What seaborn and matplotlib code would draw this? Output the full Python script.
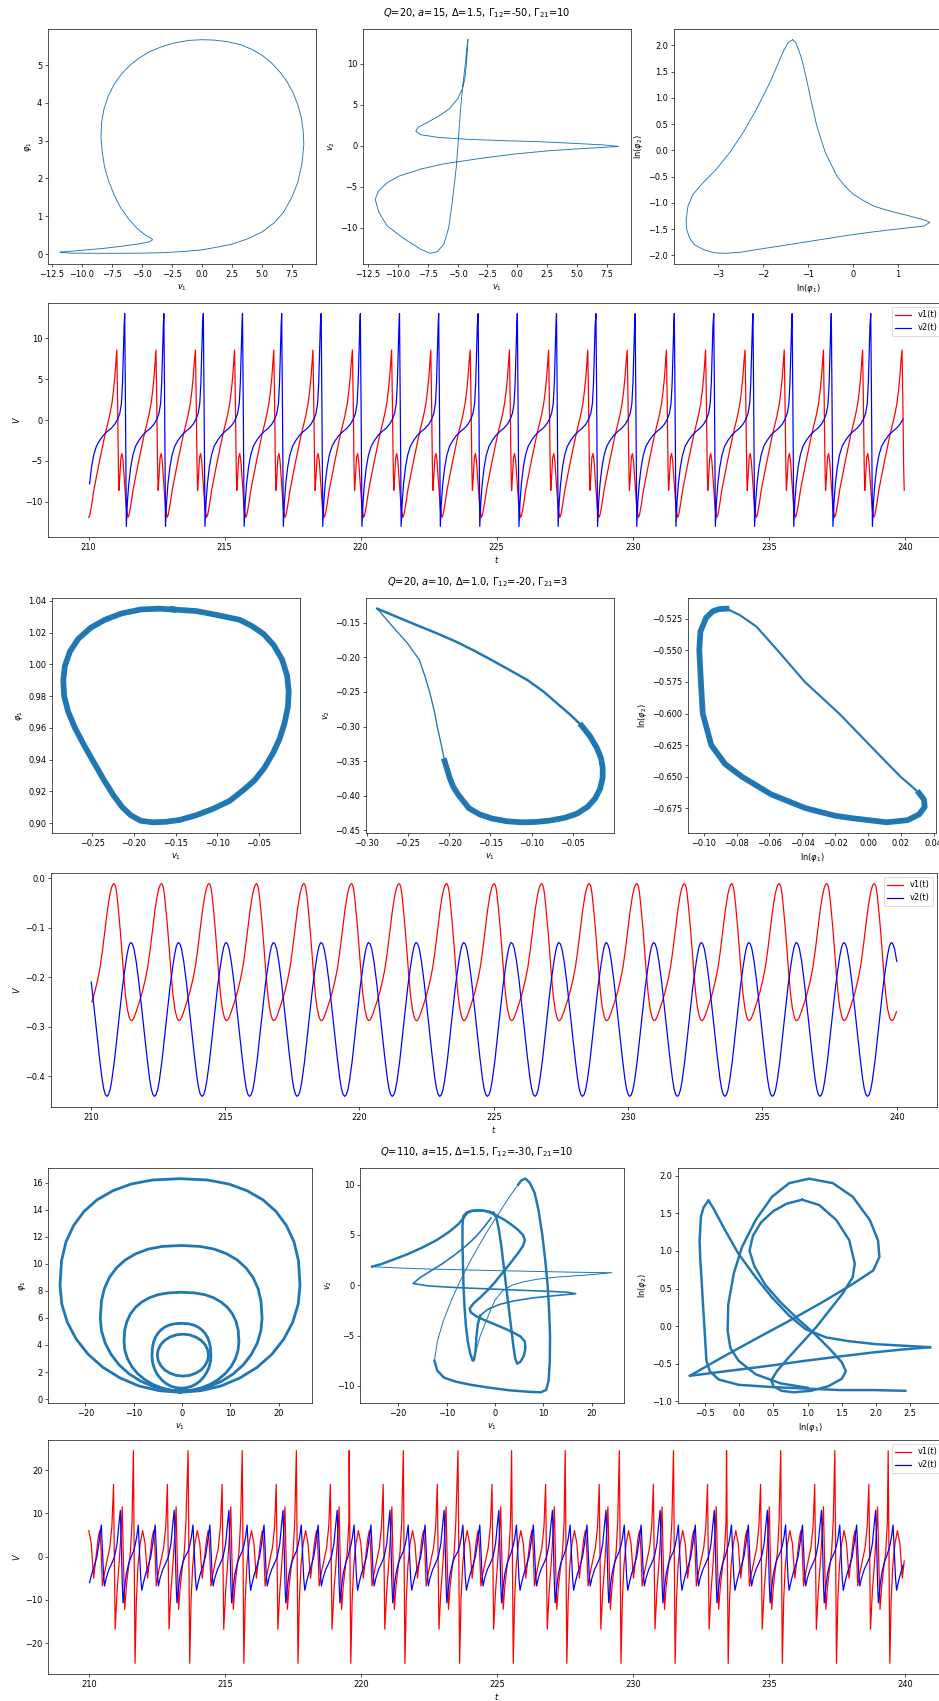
import numpy as np
import matplotlib
matplotlib.use("Agg")
import matplotlib.pyplot as plt
import seaborn as sns

# ---------------------------------------------------------------- figure frame
FIG_W, FIG_H, DPI = 939, 1701, 59
PHASE_C = "#1f77b4"

# ============================================================ section 1 data
title_1 = r"$Q$=20, $a$=15, $\Delta$=1.5, $\Gamma_{12}$=-50, $\Gamma_{21}$=10"

s1_v1_phi1_x = [-11.8, -11.0, -9.0, -7.0, -5.0, -3.0, -1.5, 0.0, 1.2, 2.5, 3.8, 5.0, 6.0, 6.8,
                7.5, 8.0, 8.35, 8.5, 8.45, 8.3, 8.0, 7.6, 7.1, 6.5, 5.85, 5.1, 4.2, 3.2, 2.1, 1.0,
                0.0, -1.1, -2.2, -3.3, -4.3, -5.2, -6.0, -6.7, -7.3, -7.8, -8.15, -8.35, -8.4,
                -8.3, -8.1, -7.75, -7.3, -6.75, -6.1, -5.4, -4.7, -4.2, -4.1, -4.3, -5.2, -6.6,
                -8.2, -10.0, -11.8]
s1_v1_phi1_y = [0.05, 0.025, 0.02, 0.02, 0.025, 0.04, 0.07, 0.11, 0.18, 0.26, 0.4, 0.58, 0.82,
                1.1, 1.5, 1.9, 2.4, 2.9, 3.25, 3.6, 3.95, 4.27, 4.56, 4.82, 5.04, 5.24, 5.41, 5.54,
                5.62, 5.66, 5.67, 5.65, 5.59, 5.49, 5.36, 5.19, 4.99, 4.76, 4.49, 4.18, 3.84,
                3.48, 3.1, 2.7, 2.3, 1.92, 1.56, 1.22, 0.93, 0.68, 0.5, 0.41, 0.38, 0.33, 0.27,
                0.21, 0.15, 0.1, 0.05]

s1_v1_v2_x = [-4.14, -4.35, -4.55, -4.72, -4.85, -4.97, -5.1, -5.3, -5.5, -5.75, -6.15, -6.7,
              -7.3, -8.1, -9.6, -10.9, -11.6, -11.9, -11.6, -10.9, -9.9, -8.1, -6.1, -3.1, -0.15,
              2.8, 5.3, 7.3, 8.5, 7.3, 4.8, 1.85, -1.15, -4.1, -6.6, -8.1, -8.5, -8.3, -7.5,
              -6.6, -5.7, -5.0, -4.6, -4.4, -4.25, -4.14]
s1_v1_v2_y = [12.9, 10.0, 7.5, 5.0, 2.5, 0.0, -2.5, -5.0, -7.5, -10.0, -12.0, -12.9, -13.1,
              -12.6, -11.2, -9.75, -8.1, -6.5, -5.5, -4.5, -3.7, -2.85, -2.2, -1.55, -1.0, -0.6,
              -0.37, -0.2, -0.1, 0.08, 0.28, 0.49, 0.61, 0.77, 1.0, 1.34, 1.75, 2.24, 2.85, 3.58,
              4.47, 5.7, 6.9, 8.1, 10.0, 12.9]

s1_ln_x = [-1.34, -1.27, -1.21, -1.15, -1.10, -1.02, -0.95, -0.80, -0.61, -0.35, -0.15, 0.02,
           0.25, 0.47, 0.73, 0.99, 1.23, 1.44, 1.62, 1.72, 1.59, 1.07, 0.47, -0.13, -0.72, -1.32,
           -1.92, -2.51, -2.83, -3.1, -3.32, -3.52, -3.63, -3.70, -3.71, -3.67, -3.56, -3.34,
           -3.04, -2.74, -2.44, -2.14, -1.84, -1.62, -1.52, -1.44, -1.34]
s1_ln_y = [2.11, 2.06, 1.93, 1.78, 1.62, 1.33, 1.04, 0.47, -0.04, -0.49, -0.70, -0.84, -0.96,
           -1.06, -1.13, -1.19, -1.24, -1.29, -1.33, -1.37, -1.44, -1.49, -1.55, -1.62, -1.70,
           -1.78, -1.86, -1.94, -1.96, -1.95, -1.89, -1.80, -1.68, -1.50, -1.32, -1.06, -0.84,
           -0.62, -0.36, -0.04, 0.34, 0.79, 1.30, 1.74, 1.93, 2.05, 2.11]

# one oscillation of each voltage, offsets measured from its spike
s1_v1_peaks = [209.60, 211.04, 212.48, 213.93, 215.37, 216.81, 218.25, 219.70, 221.14, 222.58,
               224.03, 225.47, 226.91, 228.35, 229.80, 231.24, 232.68, 234.13, 235.57, 237.01,
               238.45, 239.90]
s1_v1_dt = [0.00, 0.03, 0.06, 0.08, 0.11, 0.15, 0.19, 0.23, 0.29, 0.35, 0.41, 0.45, 0.52, 0.60,
            0.70, 0.80, 0.90, 1.00, 1.10, 1.18, 1.26, 1.32, 1.37, 1.41]
s1_v1_val = [8.55, 2.0, -6.0, -8.6, -7.0, -4.6, -4.1, -5.0, -8.0, -10.8, -11.9, -11.6, -10.3,
             -8.5, -6.8, -5.1, -3.5, -1.9, -0.5, 0.6, 2.0, 3.6, 5.3, 7.2]
s1_v2_peaks = [209.89, 211.33, 212.77, 214.22, 215.66, 217.10, 218.55, 219.99, 221.43, 222.87,
               224.32, 225.76, 227.20, 228.65, 230.09, 231.53, 232.98, 234.42, 235.86, 237.30,
               238.75]
s1_v2_dt = [0.00, 0.03, 0.06, 0.10, 0.15, 0.22, 0.30, 0.40, 0.52, 0.65, 0.80, 0.95, 1.08, 1.18,
            1.26, 1.32, 1.36, 1.39, 1.42]
s1_v2_val = [13.0, 1.0, -13.0, -10.0, -7.8, -5.8, -4.3, -3.2, -2.5, -1.9, -1.4, -1.0, -0.5, 0.1,
             0.8, 2.0, 4.5, 8.0, 11.5]

# ============================================================ section 2 data
title_2 = r"$Q$=20, $a$=10, $\Delta$=1.0, $\Gamma_{12}$=-20, $\Gamma_{21}$=3"

s2_v1_phi1_x = [-0.153, -0.125, -0.100, -0.073, -0.058, -0.044, -0.032, -0.022, -0.016, -0.014,
                -0.015, -0.019, -0.025, -0.033, -0.043, -0.055, -0.068, -0.085, -0.105, -0.125,
                -0.145, -0.162, -0.178, -0.192, -0.204, -0.214, -0.224, -0.236, -0.248, -0.260,
                -0.271, -0.279, -0.284, -0.285, -0.283, -0.277, -0.267, -0.252, -0.235, -0.215,
                -0.192, -0.170, -0.153]
s2_v1_phi1_y = [1.0345, 1.0335, 1.031, 1.028, 1.024, 1.019, 1.012, 1.003, 0.993, 0.983, 0.973,
                0.963, 0.953, 0.944, 0.935, 0.927, 0.921, 0.914, 0.909, 0.905, 0.902, 0.9008,
                0.9005, 0.9015, 0.905, 0.910, 0.917, 0.927, 0.938, 0.949, 0.960, 0.970, 0.980,
                0.990, 0.999, 1.008, 1.016, 1.023, 1.028, 1.032, 1.0345, 1.035, 1.0345]

s2_v1_v2_diag_x = [-0.287, -0.262, -0.236, -0.214, -0.1923, -0.170, -0.1486, -0.127, -0.1049,
                   -0.086, -0.0685, -0.053, -0.0393]
s2_v1_v2_diag_y = [-0.1295, -0.142, -0.1549, -0.1655, -0.1768, -0.190, -0.2037, -0.218,
                   -0.2329, -0.249, -0.2671, -0.283, -0.2988]
s2_v1_v2_loop_x = [-0.0393, -0.0292, -0.0211, -0.016, -0.0138, -0.014, -0.017, -0.023, -0.032,
                   -0.045, -0.060, -0.078, -0.095, -0.112, -0.130, -0.148, -0.163, -0.176,
                   -0.1887, -0.195, -0.199, -0.2054]
s2_v1_v2_loop_y = [-0.2988, -0.314, -0.3305, -0.345, -0.3598, -0.375, -0.390, -0.404, -0.416,
                   -0.426, -0.432, -0.436, -0.438, -0.4385, -0.437, -0.433, -0.427, -0.418,
                   -0.3988, -0.387, -0.375, -0.350]
s2_v1_v2_left_x = [-0.2054, -0.2095, -0.2141, -0.218, -0.223, -0.229, -0.236, -0.2505,
                   -0.2688, -0.287]
s2_v1_v2_left_y = [-0.350, -0.326, -0.3012, -0.277, -0.2524, -0.228, -0.2037, -0.1793,
                   -0.1549, -0.1295]

s2_ln_diag_x = [-0.0861, -0.078, -0.068, -0.055, -0.0384, -0.0176, 0.001, 0.0197, 0.026, 0.031]
s2_ln_diag_y = [-0.5169, -0.522, -0.531, -0.550, -0.575, -0.600, -0.625, -0.650, -0.657, -0.663]
s2_ln_loop_x = [0.031, 0.034, 0.0345, 0.031, 0.024, 0.0114, -0.0093, -0.020, -0.038, -0.059,
                -0.0768, -0.087, -0.0954, -0.1006, -0.1017, -0.1027, -0.1020, -0.0985, -0.0945,
                -0.0905, -0.0861]
s2_ln_loop_y = [-0.663, -0.668, -0.674, -0.680, -0.6845, -0.6862, -0.683, -0.681, -0.675,
                -0.664, -0.650, -0.640, -0.625, -0.600, -0.575, -0.550, -0.535, -0.524, -0.519,
                -0.5172, -0.5169]

s2_v1_peaks = [209.12, 210.89, 212.66, 214.43, 216.19, 217.96, 219.73, 221.50, 223.27, 225.04,
               226.81, 228.58, 230.35, 232.12, 233.88, 235.65, 237.42, 239.19]
s2_v1_dt = [0.00, 0.04, 0.08, 0.13, 0.20, 0.27, 0.33, 0.40, 0.47, 0.54, 0.58, 0.62, 0.66, 0.71,
            0.80, 0.92, 1.03, 1.14, 1.23, 1.32, 1.41, 1.50, 1.59, 1.65, 1.70, 1.74]
s2_v1_val = [-0.012, -0.018, -0.032, -0.058, -0.10, -0.148, -0.192, -0.235, -0.264, -0.281,
             -0.286, -0.288, -0.287, -0.283, -0.27, -0.25, -0.23, -0.205, -0.18, -0.145, -0.105,
             -0.065, -0.034, -0.020, -0.013, -0.011]
s2_v2_peaks = [209.72, 211.49, 213.26, 215.03, 216.80, 218.57, 220.34, 222.11, 223.88, 225.65,
               227.42, 229.18, 230.95, 232.72, 234.49, 236.26, 238.03, 239.80]
s2_v2_dt = [0.00, 0.06, 0.12, 0.20, 0.30, 0.40, 0.50, 0.60, 0.70, 0.76, 0.82, 0.88, 0.94, 1.00,
            1.06, 1.16, 1.26, 1.36, 1.46, 1.56, 1.63, 1.69, 1.74]
s2_v2_val = [-0.130, -0.133, -0.143, -0.168, -0.21, -0.26, -0.31, -0.36, -0.405, -0.425, -0.437,
             -0.441, -0.438, -0.428, -0.41, -0.37, -0.32, -0.27, -0.22, -0.18, -0.155, -0.139,
             -0.132]

# ============================================================ section 3 data
title_3 = r"$Q$=110, $a$=15, $\Delta$=1.5, $\Gamma_{12}$=-30, $\Gamma_{21}$=10"

# (v1, phi1): nested loops, one per spike size
s3_phi_loops = {
    "a": ([-0.4, 3.92, 8.1, 12.0, 15.58, 18.64, 21.12, 22.96, 24.08, 24.45, 24.13, 23.21, 21.64,
           19.5, 16.8, 13.54, 9.76, 5.39, -0.4, -6.19, -10.56, -14.34, -17.6, -20.3, -22.44,
           -24.01, -24.93, -25.25, -24.88, -23.76, -21.92, -19.44, -16.38, -12.8, -8.9, -4.72,
           -0.4],
          [0.5, 0.62, 0.97, 1.56, 2.35, 3.32, 4.45, 5.7, 7.03, 8.4, 10.24, 11.63, 12.83, 13.87,
           14.73, 15.4, 15.9, 16.2, 16.3, 16.2, 15.9, 15.4, 14.73, 13.87, 12.83, 11.63, 10.24,
           8.4, 7.03, 5.7, 4.45, 3.32, 2.35, 1.56, 0.97, 0.62, 0.5]),
    "b": ([-0.15, 2.76, 5.58, 8.23, 10.62, 12.68, 14.35, 15.6, 16.35, 16.6, 16.38, 15.76, 14.71,
           13.27, 11.44, 9.25, 6.7, 3.75, -0.15, -4.05, -7.0, -9.55, -11.74, -13.57, -15.01,
           -16.06, -16.68, -16.9, -16.65, -15.9, -14.65, -12.98, -10.92, -8.53, -5.88, -3.06,
           -0.15],
          [0.6, 0.68, 0.92, 1.32, 1.86, 2.52, 3.29, 4.14, 5.04, 5.98, 7.23, 8.18, 9.0, 9.7, 10.29,
           10.75, 11.09, 11.29, 11.36, 11.29, 11.09, 10.75, 10.29, 9.7, 9.0, 8.18, 7.23, 5.98,
           5.04, 4.14, 3.29, 2.52, 1.86, 1.32, 0.92, 0.68, 0.6]),
    "c": ([-0.1, 1.97, 3.97, 5.85, 7.55, 9.02, 10.21, 11.09, 11.62, 11.8, 11.65, 11.2, 10.46,
           9.43, 8.13, 6.58, 4.77, 2.67, -0.1, -2.87, -4.97, -6.78, -8.33, -9.63, -10.66, -11.4,
           -11.85, -12.0, -11.82, -11.29, -10.41, -9.22, -7.75, -6.05, -4.17, -2.17, -0.1],
          [0.6, 0.65, 0.82, 1.09, 1.45, 1.9, 2.42, 3.0, 3.61, 4.25, 5.1, 5.74, 6.3, 6.78, 7.17,
           7.49, 7.72, 7.85, 7.9, 7.85, 7.72, 7.49, 7.17, 6.78, 6.3, 5.74, 5.1, 4.25, 3.61, 3.0,
           2.42, 1.9, 1.45, 1.09, 0.82, 0.65, 0.6]),
    "d": ([-0.1, 0.96, 1.99, 2.95, 3.82, 4.57, 5.18, 5.63, 5.91, 6.0, 5.92, 5.7, 5.31, 4.79,
           4.12, 3.32, 2.39, 1.32, -0.1, -1.52, -2.59, -3.52, -4.32, -4.99, -5.51, -5.9, -6.12,
           -6.2, -6.11, -5.83, -5.38, -4.77, -4.02, -3.15, -2.19, -1.16, -0.1],
          [0.8, 0.84, 0.94, 1.12, 1.36, 1.66, 2.0, 2.38, 2.78, 3.2, 3.76, 4.18, 4.55, 4.86, 5.12,
           5.33, 5.48, 5.57, 5.6, 5.57, 5.48, 5.33, 5.12, 4.86, 4.55, 4.18, 3.76, 3.2, 2.78,
           2.38, 2.0, 1.66, 1.36, 1.12, 0.94, 0.84, 0.8]),
    "e": ([5.5, 5.32, 4.79, 3.95, 2.85, 1.57, 0.2, -1.17, -2.45, -3.55, -4.39, -4.92, -5.1, -4.92,
           -4.39, -3.55, -2.45, -1.17, 0.2, 1.57, 2.85, 3.95, 4.79, 5.32, 5.5],
          [3.25, 3.65, 4.03, 4.35, 4.59, 4.75, 4.8, 4.75, 4.59, 4.35, 4.03, 3.65, 3.25, 2.85, 2.48,
           2.15, 1.91, 1.75, 1.7, 1.75, 1.91, 2.15, 2.48, 2.85, 3.25]),
}

# (v1, v2): strands of the attractor, each with a weight class
s3_vv_strands = {
    "outer_side": ("thick",
                   [-12.5, -11.9, -10.5, -8.0, -5.0, -1.0, 3.0, 7.0, 9.5, 10.6, 11.1, 11.35, 11.4,
                    11.2, 10.9, 10.4, 9.8, 9.0, 8.2, 7.2, 6.3, 5.5, 4.8],
                   [-7.5, -8.5, -9.2, -9.6, -9.9, -10.2, -10.45, -10.6, -10.65, -10.4, -9.5, -7.5,
                    -5.0, -2.5, 0.0, 2.5, 5.0, 7.5, 9.2, 10.2, 10.6, 10.45, 10.0]),
    "outer_edge": ("thin",
                   [4.8, 3.0, 1.0, -1.0, -3.0, -5.0, -7.0, -9.0, -10.7, -11.9, -12.5],
                   [10.0, 8.8, 7.3, 5.8, 4.2, 2.5, 0.6, -1.5, -3.6, -5.6, -7.5]),
    "spike_top": ("thick",
                  [-25.4, -23.5, -21.0, -18.0, -15.0, -12.0, -9.5, -7.5, -6.5, -5.8, -5.0, -3.5,
                   -2.0, -0.8, 0.5, 2.0, 3.5, 4.8, 5.8, 6.2, 5.8, 4.8, 3.2, 1.5, 0.0, -1.5, -3.0,
                   -4.4, -5.2, -5.0, -3.8, -2.0, 0.0, 2.0, 3.8, 5.3, 6.2, 6.3, 6.0, 5.3, 4.6, 4.2,
                   3.8, 3.3, 2.8, 2.3, 1.8, 1.3, 0.8, 0.3, -0.3],
                  [1.85, 2.1, 2.55, 3.1, 3.75, 4.5, 5.3, 6.1, 6.7, 7.15, 7.4, 7.45, 7.4, 7.2, 6.9,
                   6.5, 6.0, 5.5, 5.0, 4.5, 3.9, 3.2, 2.2, 1.2, 0.3, -0.5, -1.2, -1.8, -2.3, -2.7,
                   -3.1, -3.5, -3.9, -4.3, -4.7, -5.1, -5.6, -6.3, -7.0, -7.6, -7.8, -7.3, -6.0,
                   -4.0, -2.0, 0.0, 2.0, 4.0, 5.6, 6.7, 7.2]),
    "box_left": ("thick",
                 [-0.3, -1.5, -3.0, -4.5, -5.8, -6.5, -6.7, -6.7, -6.6, -6.5, -6.3, -6.0, -5.6,
                  -5.1, -4.6, -4.3, -4.0, -3.8, -3.5, -3.0],
                 [7.2, 7.35, 7.45, 7.4, 7.25, 6.9, 6.0, 4.0, 2.0, 0.0, -2.0, -4.0, -5.6, -6.8,
                  -7.5, -7.4, -6.5, -5.0, -3.8, -3.0]),
    "mid_spike": ("medium",
                  [-3.0, -1.5, 1.0, 4.0, 8.0, 12.0, 15.0, 16.7, 15.0, 12.0, 8.0, 3.0, -2.0, -7.0,
                   -11.0, -14.0, -16.9, -15.5, -13.5, -11.0, -8.5, -6.0, -4.0, -2.2, -0.8],
                  [-3.0, -2.4, -1.9, -1.55, -1.25, -1.05, -0.92, -0.84, -0.7, -0.62, -0.55, -0.45,
                   -0.35, -0.25, -0.15, -0.05, 0.17, 0.75, 1.35, 2.1, 2.95, 3.9, 4.8, 5.8, 6.7]),
    "wide_spike": ("thin",
                   [-25.4, -20.0, -14.0, -8.0, -2.0, 4.0, 10.0, 16.0, 21.0, 24.2, 21.0, 17.0, 13.0,
                    9.0, 6.0, 3.5, 1.5, 0.0, -1.0, -2.0, -3.0, -3.6, -4.1, -4.4],
                   [1.85, 1.72, 1.62, 1.55, 1.48, 1.42, 1.36, 1.3, 1.26, 1.25, 1.1, 0.95, 0.82,
                    0.62, 0.35, 0.0, -0.6, -1.5, -2.6, -3.8, -5.0, -6.0, -6.9, -7.5]),
}

# (ln phi1, ln phi2): strands of the attractor
s3_ln_strands = {
    "left_loop": ([-0.45, -0.52, -0.56, -0.58, -0.57, -0.55, -0.53, -0.50, -0.48, -0.43, -0.30,
                   -0.01, 0.48, 0.97, 1.47, 1.96, 2.43],
                  [1.67, 1.58, 1.46, 1.14, 0.90, 0.60, 0.29, -0.15, -0.46, -0.60, -0.71, -0.78,
                   -0.81, -0.83, -0.85, -0.85, -0.86]),
    "left_diag": ([-0.45, -0.38, -0.21, -0.01, 0.24, 0.48, 0.73, 0.97, 1.27, 1.60, 2.00, 2.40,
                   2.79],
                  [1.67, 1.57, 1.28, 0.96, 0.65, 0.38, 0.14, -0.04, -0.15, -0.20, -0.24, -0.26,
                   -0.28]),
    "spike_low": ([2.79, 2.40, 1.96, 1.50, 0.97, 0.50, 0.24, -0.20, -0.72],
                  [-0.28, -0.31, -0.35, -0.40, -0.46, -0.52, -0.55, -0.60, -0.66]),
    "big": ([-0.72, -0.26, 0.24, 0.73, 1.22, 1.66, 1.96, 2.05, 2.03, 1.91, 1.66, 1.37, 1.02, 0.73,
             0.48, 0.24, 0.04, -0.08, -0.16, -0.17, -0.13, -0.01, 0.24, 0.60, 1.00],
            [-0.66, -0.42, -0.17, 0.07, 0.32, 0.56, 0.74, 0.92, 1.14, 1.41, 1.72, 1.90, 1.96, 1.90,
             1.72, 1.41, 1.05, 0.70, 0.29, -0.06, -0.29, -0.46, -0.64, -0.76, -0.82]),
    "inner": ([0.92, 1.17, 1.42, 1.61, 1.69, 1.66, 1.51, 1.32, 1.12, 0.92, 0.72, 0.55, 0.47, 0.50,
               0.62, 0.80, 1.05, 1.30, 1.50, 1.56, 1.50, 1.32, 1.10, 0.85, 0.60, 0.38, 0.22, 0.15,
               0.20, 0.32, 0.50, 0.70, 0.92],
              [1.68, 1.61, 1.41, 1.14, 0.83, 0.65, 0.43, 0.21, -0.02, -0.22, -0.42, -0.60, -0.72,
               -0.80, -0.86, -0.88, -0.86, -0.80, -0.70, -0.60, -0.48, -0.30, -0.10, 0.10, 0.32,
               0.55, 0.80, 1.00, 1.20, 1.38, 1.53, 1.63, 1.68]),
}

s3_cycle_starts = [209.66, 211.64, 213.65, 215.64, 217.63, 219.57, 221.56, 223.57, 225.54,
                   227.51, 229.50, 231.49, 233.44, 235.43, 237.42, 239.38]
s3_v1_dt = [0.00, 0.025, 0.06, 0.11, 0.17, 0.25, 0.34, 0.43, 0.52, 0.59, 0.68, 0.74, 0.79,
            0.84, 0.91, 1.01, 1.11, 1.19, 1.25, 1.28, 1.31, 1.38, 1.45, 1.52, 1.57, 1.61, 1.66,
            1.72, 1.79, 1.87, 1.93]
s3_v1_val = [24.5, 5.0, -24.7, -10.0, -2.0, 3.0, 6.0, 3.0, -5.0, -1.0, 4.0, 6.0, 2.0, -6.8, -4.0,
             -1.0, 2.0, 7.0, 16.7, 0.0, -16.8, -8.0, -2.0, 5.0, 11.5, 0.0, -12.2, -7.0, -3.0,
             1.0, 8.0]
s3_v2_dt = [0.00, 0.06, 0.12, 0.18, 0.22, 0.27, 0.31, 0.37, 0.45, 0.55, 0.64, 0.71, 0.80, 0.84,
            0.88, 0.92, 0.98, 1.08, 1.19, 1.29, 1.38, 1.44, 1.50, 1.54, 1.57, 1.60, 1.66, 1.72,
            1.81, 1.90]
s3_v2_val = [1.2, 2.5, 4.5, 7.3, 2.0, -5.0, -7.8, -6.0, -4.0, -2.0, 0.0, 3.0, 7.3, 2.0, -4.0,
             -6.8, -5.0, -3.0, -1.5, 0.0, 3.0, 7.0, 10.7, 2.0, -6.0, -10.7, -7.0, -4.0, -1.5, 0.0]

T_START, T_END = 210.0, 240.0
STRAND_LW = {"thick": 3.0, "medium": 2.0, "thin": 1.2}


# ================================================================ helpers
fig = plt.figure(figsize=(FIG_W / DPI, FIG_H / DPI), dpi=DPI)


def axes_px(left, top, right, bottom):
    """Place an axes by its pixel box (origin at the top-left corner)."""
    return fig.add_axes([left / FIG_W, 1 - bottom / FIG_H,
                         (right - left) / FIG_W, (bottom - top) / FIG_H])


def curve(ax, xs, ys, lw):
    sns.lineplot(x=xs, y=ys, sort=False, estimator=None, ax=ax,
                 color=PHASE_C, linewidth=lw)


def repeat_cycle(starts, dts, vals):
    t = np.concatenate([s + np.asarray(dts) for s in starts])
    v = np.tile(np.asarray(vals, dtype=float), len(starts))
    keep = (t >= T_START) & (t <= T_END)
    return t[keep], v[keep]


def series(ax, v1, v2):
    sns.lineplot(x=v1[0], y=v1[1], ax=ax, color="red", label="v1(t)",
                 sort=False, estimator=None, linewidth=1.5)
    sns.lineplot(x=v2[0], y=v2[1], ax=ax, color="blue", label="v2(t)",
                 sort=False, estimator=None, linewidth=1.5)
    ax.legend(loc="upper right")
    ax.set_xlabel(r"$t$", labelpad=2.5)
    ax.set_ylabel(r"$V$")


def phase_labels(axs):
    axs[0].set_xlabel(r"$v_1$")
    axs[0].set_ylabel(r"$\varphi_1$")
    axs[1].set_xlabel(r"$v_1$")
    axs[1].set_ylabel(r"$v_2$")
    axs[2].set_xlabel(r"ln($\varphi_1$)")
    axs[2].set_ylabel(r"ln($\varphi_2$)")


# ================================================================ section 1
fig.text(477 / FIG_W, 1 - 13 / FIG_H, title_1, ha="center", va="center", fontsize=12)
p1 = [axes_px(48, 29, 316, 264), axes_px(363, 29, 631, 264), axes_px(674, 29, 942, 264)]
curve(p1[0], s1_v1_phi1_x, s1_v1_phi1_y, 1.1)
curve(p1[1], s1_v1_v2_x, s1_v1_v2_y, 1.1)
curve(p1[2], s1_ln_x, s1_ln_y, 1.1)
phase_labels(p1)

ts1 = axes_px(48, 303, 945, 537)
series(ts1, repeat_cycle(s1_v1_peaks, s1_v1_dt, s1_v1_val),
       repeat_cycle(s1_v2_peaks, s1_v2_dt, s1_v2_val))

# ================================================================ section 2
fig.text(477 / FIG_W, 1 - 582 / FIG_H, title_2, ha="center", va="center", fontsize=12)
p2 = [axes_px(52, 598, 300, 833), axes_px(366, 598, 614, 833), axes_px(688, 598, 936, 833)]
curve(p2[0], s2_v1_phi1_x, s2_v1_phi1_y, 7.0)
curve(p2[1], s2_v1_v2_diag_x, s2_v1_v2_diag_y, 3.0)
curve(p2[1], s2_v1_v2_loop_x, s2_v1_v2_loop_y, 7.0)
curve(p2[1], s2_v1_v2_left_x, s2_v1_v2_left_y, 1.6)
curve(p2[2], s2_ln_diag_x, s2_ln_diag_y, 2.6)
curve(p2[2], s2_ln_loop_x, s2_ln_loop_y, 7.0)
phase_labels(p2)

ts2 = axes_px(51, 873, 937, 1107)
series(ts2, repeat_cycle(s2_v1_peaks, s2_v1_dt, s2_v1_val),
       repeat_cycle(s2_v2_peaks, s2_v2_dt, s2_v2_val))

# ================================================================ section 3
fig.text(477 / FIG_W, 1 - 1152 / FIG_H, title_3, ha="center", va="center", fontsize=12)
p3 = [axes_px(48, 1168, 312, 1403), axes_px(360, 1168, 624, 1403), axes_px(678, 1168, 942, 1403)]
for xs, ys in s3_phi_loops.values():
    curve(p3[0], xs, ys, 3.4)
for weight, xs, ys in s3_vv_strands.values():
    curve(p3[1], xs, ys, STRAND_LW[weight])
for xs, ys in s3_ln_strands.values():
    curve(p3[2], xs, ys, 3.0)
phase_labels(p3)

ts3 = axes_px(48, 1440, 945, 1674)
series(ts3, repeat_cycle(s3_cycle_starts, s3_v1_dt, s3_v1_val),
       repeat_cycle(s3_cycle_starts, s3_v2_dt, s3_v2_val))

fig.savefig("out.png", dpi=DPI)
